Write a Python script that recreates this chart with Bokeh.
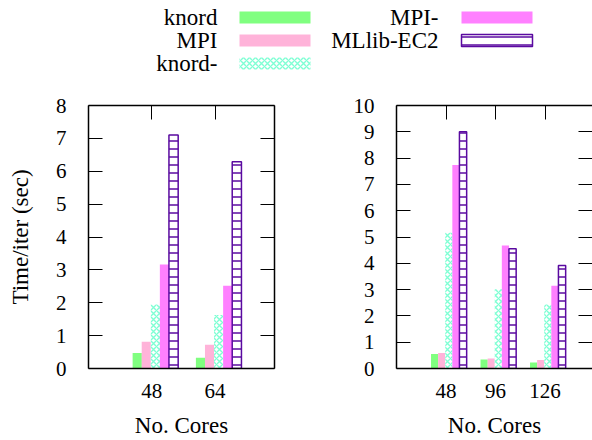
from bokeh.plotting import figure
from bokeh.layouts import column, row
from bokeh.models import Range1d, LinearAxis, FixedTicker, ColumnDataSource
from bokeh.transform import dodge
from bokeh.core.properties import value
from bokeh.embed import file_html
from bokeh.resources import INLINE

# ---------------- data ----------------
series = ["knord", "MPI", "knord-", "MPI-", "MLlib-EC2"]

cores_a = ["48", "64"]
knord_a = [0.47, 0.33]
mpi_a = [0.81, 0.72]
knordm_a = [1.95, 1.63]
mpim_a = [3.16, 2.52]
mllib_a = [7.10, 6.29]

cores_b = ["48", "96", "126"]
knord_b = [0.55, 0.34, 0.23]
mpi_b = [0.59, 0.38, 0.32]
knordm_b = [5.16, 3.01, 2.43]
mpim_b = [7.74, 4.68, 3.15]
mllib_b = [9.00, 4.55, 3.92]

y_label = "Time/iter (sec)"
x_label = "No. Cores"

# ---------------- styles ----------------
FONT = "Liberation Serif"
FS = "21px"      # tick labels
FS_L = "23px"    # axis titles and legend
PURPLE = "#5a0aa0"
styles = [
    dict(fill_color="#80ff80", line_color=None),
    dict(fill_color="#ffb3d9", line_color=None),
    dict(fill_color="white", line_color=None, hatch_pattern="x",
         hatch_color="#7fffd4", hatch_scale=6, hatch_weight=1.4),
    dict(fill_color="#ff80ff", line_color=None),
    dict(fill_color="white", line_color=PURPLE, line_width=1.5, hatch_pattern="-",
         hatch_color=PURPLE, hatch_scale=8, hatch_weight=1.5),
]

BAR_W = 0.146
STEP = 0.1435
PLOT_H = 352
TOP_B = 17
FRAME_H = 263


def style_axis(ax, ticker, labels=True, line=True, ticks=True):
    ax.ticker = ticker
    ax.major_tick_in = 14 if ticks else 0
    ax.major_tick_out = 0
    ax.major_tick_line_color = "black" if ticks else None
    ax.major_tick_line_width = 1
    ax.minor_tick_line_color = None
    ax.axis_line_color = "black" if line else None
    ax.axis_line_width = 1.5
    ax.major_label_text_font = FONT
    ax.major_label_text_font_size = FS
    ax.major_label_text_color = "black"
    ax.axis_label_text_color = "black"
    if not labels:
        ax.major_label_overrides = {t: "" for t in ticker.ticks}
        ax.major_label_standoff = 0


def make_plot(cores, vals, ymax, width, min_left, min_right, x_end, ylab=None,
              right_line=True):
    p = figure(width=width, height=PLOT_H, x_range=Range1d(0, x_end),
               y_range=Range1d(0, ymax), output_backend="svg",
               toolbar_location=None, min_border_left=min_left,
               min_border_right=min_right, min_border_top=TOP_B,
               min_border_bottom=PLOT_H - TOP_B - FRAME_H)
    p.grid.visible = False
    p.outline_line_color = None

    pos = list(range(1, len(cores) + 1))
    data = dict(pos=pos)
    for i, v in enumerate(vals):
        data[f"s{i}"] = v
    src = ColumnDataSource(data)
    for i, st in enumerate(styles):
        p.vbar(x=dodge("pos", (i - 1.6) * STEP), top=f"s{i}", width=BAR_W,
               source=src, **st)

    xt = FixedTicker(ticks=pos)
    yt = FixedTicker(ticks=list(range(0, ymax + 1)))

    bx = p.xaxis[0]
    style_axis(bx, xt, ticks=False)
    bx.major_label_overrides = {pp: c for pp, c in zip(pos, cores)}
    bx.major_label_standoff = 15
    bx.axis_label = x_label
    bx.axis_label_text_font = FONT
    bx.axis_label_text_font_size = FS_L
    bx.axis_label_text_font_style = "normal"
    bx.axis_label_standoff = 12

    ly = p.yaxis[0]
    style_axis(ly, yt)
    ly.major_label_standoff = 22
    if ylab:
        ly.axis_label = ylab
        ly.axis_label_text_font = FONT
        ly.axis_label_text_font_size = FS_L
        ly.axis_label_text_font_style = "normal"
        ly.axis_label_standoff = 20

    top = LinearAxis()
    style_axis(top, xt, labels=False)
    p.add_layout(top, "above")

    right = LinearAxis()
    style_axis(right, yt, labels=False, line=right_line)
    p.add_layout(right, "right")
    return p


p1 = make_plot(cores_a, [knord_a, mpi_a, knordm_a, mpim_a, mllib_a], 8,
               width=336, min_left=88, min_right=62, x_end=186 / 63.27,
               ylab=y_label)
p2 = make_plot(cores_b, [knord_b, mpi_b, knordm_b, mpim_b, mllib_b], 10,
               width=256, min_left=60, min_right=0, x_end=196 / 49.5,
               right_line=False)

# ---------------- legend (label left, swatch right) ----------------
leg = figure(width=592, height=88, x_range=Range1d(0, 592), y_range=Range1d(88, 0),
             output_backend="svg", toolbar_location=None, x_axis_type=None,
             y_axis_type=None, min_border=0)
leg.grid.visible = False
leg.outline_line_color = None
col_text_right = [217, 438]
col_box_left = [239, 461]
row_y = [17, 40, 63]
for i, name in enumerate(series):
    c, r = (0, i) if i < 3 else (1, i - 3)
    leg.text(x=[col_text_right[c]], y=[row_y[r]], text=[name],
             text_font=value(FONT), text_font_size=value(FS_L), text_align="right",
             text_baseline="middle", text_color="black")
    leg.quad(left=[col_box_left[c]], right=[col_box_left[c] + 71],
             top=[row_y[r] - 6], bottom=[row_y[r] + 6], **styles[i])

layout = column(leg, row(p1, p2))
open("out.html", "w").write(file_html(layout, INLINE))
